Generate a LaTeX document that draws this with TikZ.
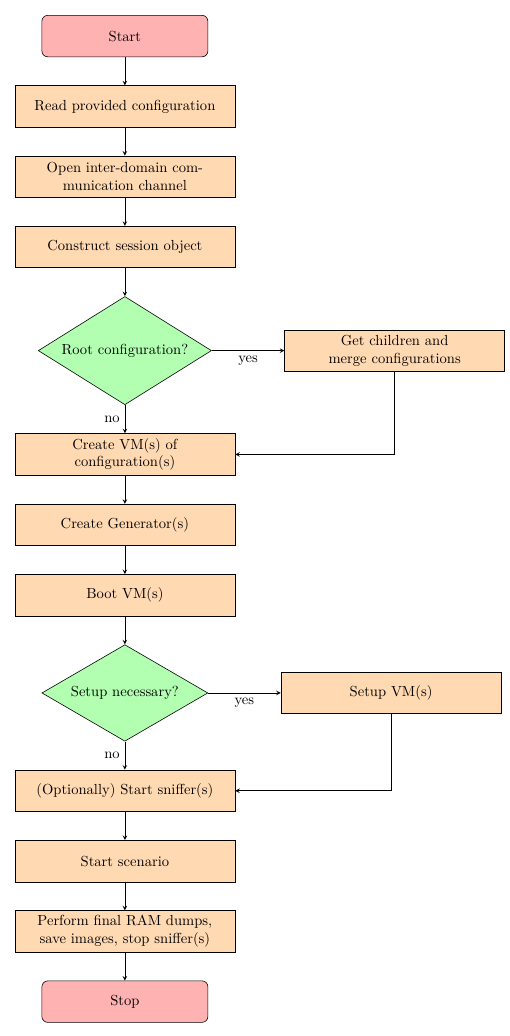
\documentclass[tikz,border=0pt]{standalone}
\usetikzlibrary{shapes.geometric,arrows,positioning}

\tikzset{
  startstop/.style={rectangle, rounded corners, minimum width=4cm, minimum height=1cm, text centered, draw=black, fill=red!30},
  process/.style={rectangle, text width=5.07cm, minimum height=1cm, align=center, draw=black, fill=orange!30},
  decision/.style={diamond, aspect=1.6, minimum width=4cm, text centered, draw=black, fill=green!30},
  arrow/.style={->, >=stealth}
}

\begin{document}
\begin{tikzpicture}[node distance=0.68cm]
% Main column
\node[startstop] (start) at (0,0) {Start};
\node[process, below=of start] (readconf) {Read provided configuration};
\node[process, below=of readconf] (openchan) {Open inter-domain communication channel};
\node[process, below=of openchan] (session) {Construct session object};
\node[decision, below=of session] (rootconf) {Root configuration?};
\node[process, right=1.75cm of rootconf] (children) {Get children and\\merge configurations};
\node[process, below=of rootconf] (createvm) {Create VM(s) of configuration(s)};
\node[process, below=of createvm] (generator) {Create Generator(s)};
\node[process, below=of generator] (bootvm) {Boot VM(s)};
\node[decision, below=of bootvm] (setupnec) {Setup necessary?};
\node[process, right=1.75cm of setupnec] (setupvm) {Setup VM(s)};
\node[process, below=of setupnec] (sniffer) {(Optionally) Start sniffer(s)};
\node[process, below=of sniffer] (scenario) {Start scenario};
\node[process, below=of scenario] (dumps) {Perform final RAM dumps, save images, stop sniffer(s)};
\node[startstop, below=of dumps] (stop) {Stop};

% Connectors
\draw[arrow] (start) -- (readconf);
\draw[arrow] (readconf) -- (openchan);
\draw[arrow] (openchan) -- (session);
\draw[arrow] (session) -- (rootconf);
\draw[arrow] (rootconf) -- node[below] {yes} (children);
\draw[arrow] (rootconf) -- node[left] {no} (createvm);
\draw[arrow] (children.south) |- (createvm.east);
\draw[arrow] (createvm) -- (generator);
\draw[arrow] (generator) -- (bootvm);
\draw[arrow] (bootvm) -- (setupnec);
\draw[arrow] (setupnec) -- node[below] {yes} (setupvm);
\draw[arrow] (setupnec) -- node[left] {no} (sniffer);
\draw[arrow] (setupvm.south) |- (sniffer.east);
\draw[arrow] (sniffer) -- (scenario);
\draw[arrow] (scenario) -- (dumps);
\draw[arrow] (dumps) -- (stop);

\useasboundingbox (-3.01,0.87) rectangle (9.28,-24.1);
\end{tikzpicture}
\end{document}
